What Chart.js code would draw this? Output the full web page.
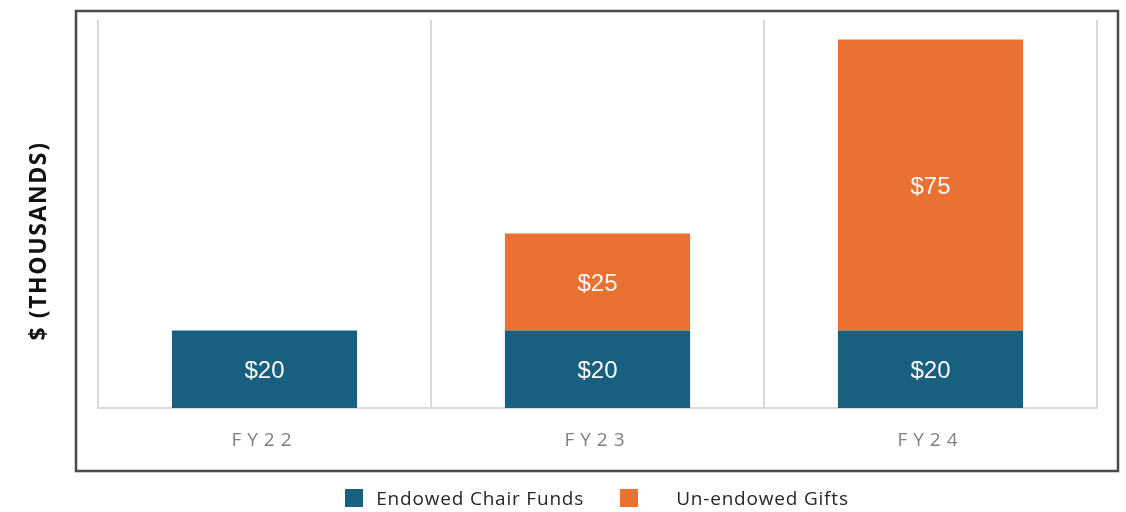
<!DOCTYPE html>
<html>
<head>
<meta charset="utf-8">
<script src="https://cdn.jsdelivr.net/npm/chart.js@4"></script>
<style>
    html, body { margin: 0; padding: 0; background: #fff; }
    #wrap { width: 1126px; height: 512px; position: relative; }
    #legend {
        position: absolute; left: 76px; width: 1042px; top: 484px; height: 28px;
        display: flex; justify-content: center; align-items: center;
        font-family: "Open Sans", sans-serif; font-size: 19px; color: #262626;
        letter-spacing: 0.8px;
    }
    .item { display: flex; align-items: center; }
    .item + .item { margin-left: 36px; }
    .swatch { width: 18px; height: 18px; margin-right: 13px; }
    .item + .item .swatch { margin-right: 38px; }
</style>
</head>
<body>
<div id="wrap">
    <canvas id="chart"></canvas>
    <div id="legend"></div>
</div>
<script>
// --- Data ---
const years = ['FY22', 'FY23', 'FY24'];
const endowedChairFunds = [20, 20, 20];
const unendowedGifts = [null, 25, 75];
const seriesNames = ['Endowed Chair Funds', 'Un-endowed Gifts'];
const yAxisTitle = '$ (THOUSANDS)';

const BLUE = '#17607f';
const ORANGE = '#e97132';
const GRID = '#d9d9d9';

// Frame around the plot + rotated y title, value labels, spaced x labels
const framePlugin = {
    id: 'frame',
    beforeDraw(chart) {
        const { ctx, chartArea } = chart;
        const left = chartArea.left - 22;
        const top = chartArea.top - 9;
        const right = chartArea.right + 21;
        const bottom = chartArea.bottom + 63;
        ctx.save();
        ctx.strokeStyle = '#4a4a4a';
        ctx.lineWidth = 2.5;
        ctx.strokeRect(left, top, right - left, bottom - top);

        ctx.translate(left - 37, (top + bottom) / 2);
        ctx.rotate(-Math.PI / 2);
        ctx.fillStyle = '#111111';
        ctx.font = 'bold 23px "Open Sans"';
        ctx.letterSpacing = '1.6px';
        ctx.textAlign = 'center';
        ctx.textBaseline = 'middle';
        ctx.fillText(yAxisTitle, 0, 0);
        ctx.restore();
    },
    afterDatasetsDraw(chart) {
        const { ctx } = chart;
        // value labels inside the bars
        ctx.save();
        ctx.fillStyle = '#fbf8f5';
        ctx.font = '24px "Liberation Sans"';
        ctx.textAlign = 'center';
        ctx.textBaseline = 'middle';
        chart.data.datasets.forEach((ds, i) => {
            chart.getDatasetMeta(i).data.forEach((bar, j) => {
                const v = ds.data[j];
                if (v == null) return;
                ctx.fillText('$' + v, bar.x, (bar.y + bar.base) / 2 + 2);
            });
        });
        ctx.restore();
        ctx.letterSpacing = '6px'; // x tick labels are drawn after this (ticks.z = 1)
    },
    afterDraw(chart) {
        chart.ctx.letterSpacing = '0px';
    }
};

const ctx = document.getElementById('chart').getContext('2d');
const chart = new Chart(ctx, {
    type: 'bar',
    data: {
        labels: years,
        datasets: [
            { label: seriesNames[0], data: endowedChairFunds, backgroundColor: BLUE },
            { label: seriesNames[1], data: unendowedGifts, backgroundColor: ORANGE }
        ]
    },
    options: {
        responsive: true,
        maintainAspectRatio: false,
        animation: false,
        layout: { padding: { left: 98, right: 29, top: 20, bottom: 41 } },
        datasets: { bar: { categoryPercentage: 1, barPercentage: 0.556 } },
        scales: {
            x: {
                stacked: true,
                grid: { color: GRID, lineWidth: 2, drawTicks: false, offset: true },
                border: { color: GRID, width: 2 },
                ticks: {
                    z: 1,
                    padding: 21,
                    color: '#7f7f7f',
                    font: { family: '"Open Sans"', size: 19 }
                },
                afterFit(scale) { scale.height = 63; }
            },
            y: {
                stacked: true,
                display: false,
                min: 0,
                max: 100
            }
        },
        plugins: {
            legend: { display: false },
            tooltip: { enabled: false }
        }
    },
    plugins: [framePlugin]
});

// --- HTML legend built from the datasets ---
const legendEl = document.getElementById('legend');
chart.data.datasets.forEach(ds => {
    const item = document.createElement('div');
    item.className = 'item';
    item.innerHTML = `<span class="swatch" style="background:${ds.backgroundColor}"></span><span>${ds.label}</span>`;
    legendEl.appendChild(item);
});
</script>
</body>
</html>
